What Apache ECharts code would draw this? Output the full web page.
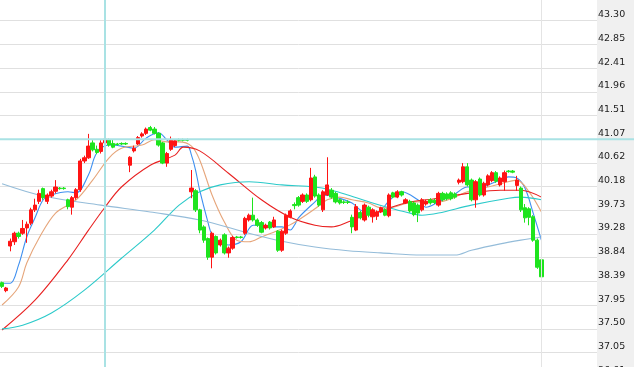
<!DOCTYPE html>
<html><head><meta charset="utf-8">
<script src="https://cdn.jsdelivr.net/npm/echarts@6/dist/echarts.min.js"></script>
<style>html,body{margin:0;padding:0;background:#fff;overflow:hidden}#c{width:634px;height:367px}</style>
</head><body><div id="c"></div>
<script>
// ---- data ----
const categoryCount = 145; // visible slots on the time axis (last 13 empty)
const categories = Array.from({length: categoryCount}, (_, i) => 'D' + (i + 1));

const opens = [38.37,38.22,39.06,39.14,39.30,39.30,39.40,39.49,39.74,39.90, 40.14,39.90,40.00,40.09,40.15,40.15,39.93,39.79,39.97,40.12, 40.66,40.72,41.00,40.88,40.84,41.00,41.06,40.99,40.98,40.99, 40.99,40.58,40.85,40.98,41.13,41.18,41.29,41.26,41.18,41.00, 40.62,40.88,40.95,41.06,41.06,41.06,40.08,40.10,39.74,39.42, 39.20,38.85,39.24,39.08,39.27,38.93,39.02,39.23,39.23,39.30, 39.55,39.64,39.55,39.50,39.40,39.51,39.42,39.34,38.98,39.30, 39.60,39.84,39.97,39.90,40.02,39.93,40.36,40.02,39.74,40.02, 40.11,40.05,39.93,39.89,39.89,39.60,39.36,39.69,39.55,39.79, 39.61,39.62,39.70,39.74,39.63,40.06,39.98,40.08,39.87,39.90, 39.87,39.83,39.74,39.85,39.93,39.92,39.83,40.05,40.04,40.06, 40.04,40.26,40.27,40.55,40.30,39.93,40.32,40.02,40.21,40.29, 40.44,40.21,40.27,40.47,40.47,40.20,40.15,39.78,39.76,39.61, 39.17,38.80];
const closes = [38.30,38.27,39.15,39.30,39.24,39.39,39.47,39.74,39.83,40.05, 39.97,40.02,40.08,40.17,40.14,40.14,39.80,39.97,40.12,40.66, 40.72,40.94,40.87,40.82,41.00,41.07,40.96,40.92,40.97,40.98, 40.98,40.73,40.90,41.10,41.17,41.26,41.24,41.18,40.96,40.62, 40.80,41.05,41.04,41.05,41.05,41.05,40.15,39.74,39.36,39.17, 38.85,39.30,38.93,39.17,38.93,39.02,39.22,39.22,39.22,39.58, 39.64,39.55,39.45,39.32,39.45,39.40,39.55,38.98,39.34,39.64, 39.72,39.82,39.83,40.02,39.90,40.34,40.00,39.83,40.08,40.21, 39.98,39.89,39.87,39.88,39.88,39.42,39.80,39.59,39.83,39.64, 39.74,39.70,39.78,39.64,40.02,39.98,40.08,40.02,39.93,39.72, 39.65,39.68,39.93,39.90,39.87,39.88,40.05,39.93,39.95,39.95, 39.98,40.30,40.55,40.21,39.93,40.27,40.02,40.24,40.38,40.44, 40.28,40.34,40.44,40.46,40.45,40.30,39.74,39.59,39.60,39.17, 38.66,38.48];
const lows = [38.27,38.19,38.96,39.08,39.20,39.27,39.12,39.45,39.70,39.85, 39.93,39.85,39.97,40.05,40.12,40.12,39.75,39.65,39.93,40.08, 40.62,40.70,40.84,40.79,40.80,40.98,40.93,40.90,40.95,40.96, 40.96,40.45,40.82,40.96,41.10,41.15,41.22,41.16,40.93,40.60, 40.55,40.85,40.92,41.03,41.03,41.03,39.96,39.70,39.30,39.12, 38.80,38.64,38.90,39.05,38.90,38.84,38.99,39.20,39.20,39.27, 39.52,39.52,39.42,39.30,39.37,39.37,39.40,38.95,38.95,39.27, 39.58,39.75,39.80,39.87,39.87,39.90,39.97,39.80,39.70,40.00, 39.95,39.86,39.84,39.85,39.85,39.30,39.34,39.56,39.52,39.60, 39.50,39.55,39.68,39.62,39.60,39.96,39.96,39.99,39.85,39.69, 39.62,39.51,39.71,39.82,39.84,39.85,39.80,39.90,39.92,39.92, 39.95,40.22,40.24,40.18,39.90,39.78,39.99,39.99,40.18,40.26, 40.25,40.18,40.10,40.44,40.43,40.10,39.70,39.50,39.45,39.14, 38.63,38.45];
const highs = [38.39,38.29,39.20,39.33,39.33,39.55,39.52,39.78,39.95,40.12, 40.16,40.05,40.12,40.30,40.17,40.17,39.95,40.00,40.15,40.70, 40.76,41.17,41.05,40.95,41.05,41.12,41.08,41.07,41.00,41.01, 41.01,40.75,40.95,41.13,41.20,41.29,41.32,41.30,41.20,41.02, 40.83,41.12,41.07,41.08,41.08,41.08,40.49,40.13,39.76,39.45, 39.22,39.33,39.26,39.20,39.30,39.05,39.25,39.25,39.25,39.61, 39.67,39.97,39.58,39.53,39.48,39.53,39.61,39.36,39.37,39.67, 39.75,39.88,40.00,40.05,40.05,40.53,40.40,40.05,40.11,40.73, 40.15,40.08,39.95,39.92,39.92,39.65,39.85,39.72,39.86,39.82, 39.77,39.73,39.80,39.77,40.05,40.08,40.11,40.10,39.96,39.93, 39.90,39.86,39.96,39.93,39.96,39.95,40.08,40.08,40.07,40.09, 40.07,40.33,40.62,40.62,40.33,40.30,40.35,40.27,40.41,40.47, 40.47,40.37,40.48,40.49,40.49,40.38,40.18,39.85,39.79,39.64, 39.20,38.83];

// moving averages: [category index, value]
const ma5 = [[0,38.36],[2,38.36],[4,38.70],[6,39.23],[8,39.59],[10,39.93],[12,40.02],[16,40.08],[18,40.06],[21,40.40],[23,40.81],[26,40.96],[29,40.94],[32,40.90],[35,41.09],[38,41.19],[40,41.06],[42,40.92],[45,40.94],[46,40.77],[47,40.49],[48,40.11],[50,39.51],[51,39.27],[53,39.12],[55,39.08],[58,39.14],[61,39.45],[63,39.45],[66,39.42],[68,39.42],[70,39.36],[71,39.45],[72,39.59],[76,39.89],[78,40.02],[81,39.98],[85,39.87],[87,39.74],[89,39.68],[91,39.68],[94,39.91],[97,40.08],[101,39.93],[103,39.79],[106,39.89],[110,40.04],[113,40.17],[116,40.17],[120,40.27],[123,40.36],[125,40.34],[127,40.15],[129,39.68],[131,39.17]];
const ma10 = [[0,37.95],[4,38.29],[6,38.74],[9,39.21],[13,39.68],[18,39.93],[22,40.30],[26,40.72],[29,40.90],[34,40.96],[37,41.06],[40,41.02],[43,41.02],[46,40.94],[48,40.68],[51,40.02],[54,39.51],[57,39.17],[60,39.14],[63,39.23],[66,39.32],[69,39.42],[72,39.55],[76,39.76],[79,39.93],[82,39.98],[85,39.93],[89,39.87],[92,39.78],[95,39.79],[100,39.89],[106,39.89],[110,39.98],[113,40.08],[118,40.17],[122,40.25],[125,40.30],[128,40.08],[131,39.70]];
const ma20 = [[0,37.48],[8,38.04],[16,38.80],[21,39.36],[25,39.79],[29,40.17],[36,40.58],[42,40.77],[44,40.92],[48,40.85],[55,40.43],[63,39.93],[70,39.60],[76,39.45],[80,39.42],[84,39.51],[88,39.64],[92,39.72],[98,39.87],[106,39.96],[114,40.06],[121,40.11],[126,40.11],[131,39.98]];
const ma60 = [[0,37.50],[5,37.57],[12,37.80],[20,38.23],[29,38.83],[37,39.36],[43,39.83],[48,40.08],[53,40.21],[60,40.27],[68,40.21],[76,40.17],[80,40.11],[84,40.02],[90,39.87],[94,39.78],[98,39.70],[102,39.64],[106,39.68],[114,39.83],[123,39.96],[126,39.98],[131,39.93]];
const ma120 = [[0,40.23],[10,40.00],[24,39.83],[36,39.70],[48,39.55],[60,39.30],[68,39.15],[76,39.04],[84,38.97],[92,38.93],[102,38.89],[110,38.89],[114,38.98],[121,39.10],[126,39.17],[131,39.23]];

// price axis tick labels, bottom to top
const tickLabels = ['36.61','37.05','37.50','37.95','38.39','38.84','39.28','39.73','40.18','40.62','41.07','41.51','41.96','42.41','42.85','43.30'];
const priceBase = 36.61, priceStep = 0.446, stepsVisible = 15.873;
const crossIndex = 25, crossPrice = 41.07, todayIndex = 131;

// ---- chart ----
const chart = echarts.init(document.getElementById('c'), null, {renderer: 'canvas'});
const ohlc = opens.map((o, i) => [o, closes[i], lows[i], highs[i]]);
const lineS = (name, data, color) => ({
  name, type: 'line', data, smooth: 0.35, showSymbol: false, symbol: 'none',
  yAxisIndex: 0, lineStyle: {width: 1.1, color}, itemStyle: {color}, z: 3, silent: true
});

chart.setOption({
  animation: false,
  backgroundColor: '#ffffff',
  grid: {left: 0, right: 37, top: 0, height: 376.2, containLabel: false, outerBoundsMode: 'none'},
  xAxis: {type: 'category', data: categories, boundaryGap: true, show: false},
  yAxis: [
    {type: 'value', min: priceBase, max: priceBase + stepsVisible * priceStep, show: false, scale: true},
    {type: 'value', min: 0, max: stepsVisible, interval: 1, position: 'right',
     axisLine: {show: false}, axisTick: {show: false},
     splitLine: {show: true, showMaxLine: false, lineStyle: {color: '#e0e0e0', width: 1}},
     axisLabel: {show: true, inside: false, margin: 1, showMaxLabel: false, verticalAlign: 'bottom',
       padding: [0, 0, 1, 0], color: '#222', fontSize: 9.5, fontFamily: 'DejaVu Sans',
       formatter: v => tickLabels[Math.round(v)] || ''}}
  ],
  series: [
    {type: 'candlestick', data: ohlc, yAxisIndex: 0, barWidth: 3.8, z: 4, silent: true,
     itemStyle: {color: '#ff1414', color0: '#1ee41e', borderColor: '#ff1414', borderColor0: '#1ee41e', borderWidth: 1},
     markLine: {silent: true, symbol: ['none', 'none'], label: {show: false}, animation: false,
       data: [
         {xAxis: todayIndex, lineStyle: {color: '#e4e4e4', width: 1, type: 'solid'}},
         {xAxis: crossIndex, lineStyle: {color: '#a9e2e4', width: 2, type: 'solid'}}
       ]}},
    lineS('MA5', ma5, '#3d8ff0'),
    lineS('MA10', ma10, '#e6a57a'),
    lineS('MA20', ma20, '#e82020'),
    lineS('MA60', ma60, '#2ccaca'),
    lineS('MA120', ma120, '#94bcd9')
  ]
});

// horizontal crosshair across plot and label strip
const yCross = chart.convertToPixel({yAxisIndex: 0}, crossPrice);
chart.setOption({graphic: [
  {type: 'rect', z: -10, left: 597, top: 0, shape: {width: 37, height: 367}, style: {fill: '#f0f0f0'}},
  {type: 'line', z: 10, shape: {x1: 0, y1: yCross, x2: 634, y2: yCross}, style: {stroke: '#a9e2e4', lineWidth: 2}}
]});
</script></body></html>
